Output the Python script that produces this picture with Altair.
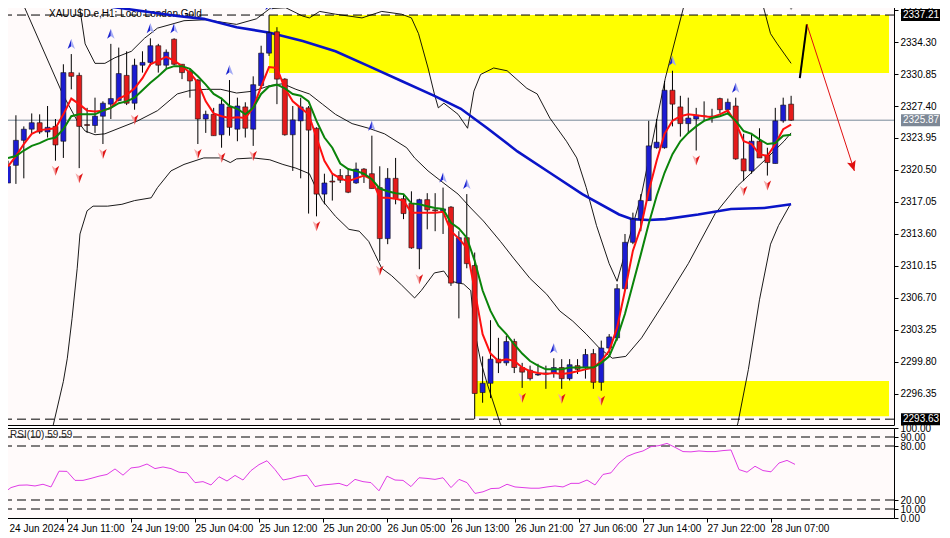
import json
import altair as alt
import pandas as pd

# ---------------- data ----------------
bars = list(range(100))

opens = [2319.1, 2321.0, 2323.7, 2324.9, 2325.6, 2324.6, 2325.2, 2323.6, 2331.0, 2330.7,
         2325.4, 2325.3, 2326.3, 2327.6, 2328.0, 2330.7, 2327.7, 2331.8, 2332.1, 2333.9,
         2331.8, 2334.6, 2331.9, 2331.1, 2330.2, 2326.0, 2326.5, 2324.3, 2327.3, 2324.9,
         2327.3, 2324.9, 2329.6, 2333.1, 2335.4, 2330.3, 2324.3, 2325.8, 2327.2, 2325.0,
         2317.9, 2319.3, 2319.9, 2319.9, 2319.1, 2320.6, 2320.1, 2318.6, 2313.1, 2319.6,
         2317.4, 2316.9, 2312.0, 2317.3, 2316.2, 2316.1, 2316.5, 2308.3, 2313.2, 2310.2,
         2296.5, 2297.5, 2300.1, 2299.7, 2302.0, 2299.2, 2298.9, 2298.4, 2298.5, 2298.6,
         2299.2, 2298.0, 2299.4, 2299.2, 2300.7, 2297.6, 2301.3, 2302.4, 2307.7, 2312.7,
         2315.2, 2317.2, 2322.9, 2322.9, 2329.1, 2327.3, 2325.5, 2326.0, 2326.3, 2326.3,
         2328.2, 2327.0, 2327.4, 2321.7, 2320.4, 2323.6, 2322.1, 2321.2, 2325.8, 2327.6]

highs = [2321.5, 2326.4, 2325.2, 2326.6, 2326.5, 2327.4, 2326.0, 2331.9, 2333.0, 2331.0,
         2327.2, 2328.3, 2327.9, 2334.1, 2333.7, 2333.3, 2332.5, 2333.3, 2334.7, 2334.1,
         2333.5, 2334.7, 2331.9, 2331.4, 2330.3, 2326.9, 2327.2, 2328.3, 2330.2, 2328.3,
         2327.8, 2330.6, 2333.9, 2337.2, 2335.9, 2330.4, 2327.4, 2328.3, 2327.4, 2325.1,
         2320.1, 2320.1, 2320.6, 2320.7, 2321.3, 2320.7, 2324.2, 2320.9, 2320.7, 2321.8,
         2317.9, 2318.2, 2317.4, 2318.0, 2318.0, 2318.6, 2316.6, 2313.9, 2317.9, 2311.6,
         2300.4, 2304.3, 2302.4, 2302.6, 2302.3, 2299.7, 2299.4, 2299.6, 2299.4, 2300.2,
         2300.1, 2300.1, 2300.1, 2301.2, 2301.2, 2302.1, 2302.8, 2308.2, 2313.6, 2315.9,
         2317.9, 2325.8, 2326.0, 2330.1, 2331.2, 2328.5, 2328.3, 2327.2, 2327.9, 2327.1,
         2328.3, 2328.2, 2328.3, 2324.4, 2324.5, 2325.0, 2322.9, 2327.2, 2328.3, 2328.5]

lows = [2319.1, 2319.0, 2319.6, 2324.4, 2324.4, 2324.0, 2321.5, 2321.8, 2329.2, 2320.7,
        2324.5, 2324.5, 2323.3, 2326.0, 2327.9, 2327.5, 2327.0, 2331.0, 2331.7, 2331.0,
        2331.5, 2331.8, 2330.3, 2328.3, 2323.3, 2324.5, 2324.2, 2322.9, 2324.2, 2323.6,
        2324.0, 2323.1, 2329.3, 2332.8, 2327.6, 2324.2, 2320.4, 2319.6, 2315.8, 2315.5,
        2316.8, 2317.2, 2319.1, 2318.0, 2319.0, 2319.1, 2318.5, 2310.7, 2312.5, 2316.8,
        2315.2, 2312.0, 2309.8, 2314.1, 2313.9, 2313.6, 2308.0, 2304.5, 2309.9, 2293.63,
        2295.4, 2295.9, 2298.6, 2299.4, 2298.6, 2297.0, 2297.8, 2298.3, 2296.9, 2298.1,
        2296.9, 2297.8, 2298.5, 2298.0, 2296.9, 2296.7, 2300.7, 2302.1, 2307.5, 2312.5,
        2313.9, 2317.2, 2322.8, 2322.8, 2325.2, 2324.1, 2324.4, 2322.6, 2325.8, 2325.6,
        2326.6, 2326.5, 2321.6, 2319.3, 2320.1, 2321.8, 2319.9, 2321.2, 2325.6, 2325.8]

closes = [2320.9, 2323.7, 2324.9, 2325.6, 2324.6, 2325.1, 2323.2, 2331.0, 2330.6, 2325.2,
          2325.3, 2326.3, 2327.7, 2328.2, 2330.9, 2327.7, 2331.8, 2332.1, 2333.9, 2331.8,
          2333.2, 2331.9, 2331.0, 2330.1, 2326.0, 2326.5, 2324.2, 2327.6, 2325.1, 2327.4,
          2325.0, 2329.7, 2333.1, 2335.3, 2330.3, 2324.3, 2325.9, 2327.3, 2324.8, 2317.9,
          2319.1, 2319.2, 2319.4, 2318.1, 2320.6, 2320.0, 2318.5, 2313.1, 2319.6, 2317.4,
          2315.8, 2312.1, 2317.3, 2316.2, 2316.1, 2316.3, 2308.3, 2313.2, 2310.4, 2296.4,
          2297.5, 2300.1, 2299.7, 2302.0, 2299.2, 2298.7, 2298.0, 2298.5, 2298.6, 2299.2,
          2298.0, 2299.5, 2299.0, 2300.6, 2297.6, 2301.3, 2302.5, 2307.7, 2312.7, 2315.2,
          2317.2, 2323.1, 2323.5, 2329.1, 2327.6, 2325.5, 2326.1, 2326.4, 2326.3, 2326.2,
          2327.0, 2327.8, 2321.7, 2320.4, 2323.6, 2321.8, 2321.3, 2325.8, 2327.5, 2325.87]

ma_fast = [2320.9, 2322.0, 2323.3, 2324.4, 2324.8, 2324.9, 2325.0, 2326.5, 2328.2, 2327.6,
           2326.9, 2326.8, 2326.9, 2327.2, 2328.2, 2328.6, 2329.3, 2330.4, 2331.9, 2332.3,
           2332.7, 2332.3, 2331.7, 2331.0, 2329.9, 2327.9, 2326.6, 2326.3, 2326.1, 2326.2,
           2326.1, 2327.2, 2329.5, 2331.6, 2331.5, 2329.3, 2327.9, 2327.2, 2326.5, 2324.0,
           2321.5, 2320.1, 2319.6, 2319.3, 2319.6, 2319.9, 2319.5, 2317.5, 2317.5, 2317.4,
           2317.2, 2315.9, 2315.9, 2315.9, 2315.9, 2316.0, 2313.9, 2313.1, 2312.1, 2307.5,
           2302.8, 2300.7, 2299.9, 2300.1, 2299.9, 2299.2, 2298.8, 2298.6, 2298.5, 2298.6,
           2298.5, 2298.6, 2298.8, 2299.0, 2299.2, 2299.9, 2301.0, 2303.5, 2307.5, 2311.8,
           2314.3, 2318.2, 2321.5, 2324.4, 2325.8, 2326.3, 2326.5, 2326.4, 2326.3, 2326.2,
           2326.5, 2326.9, 2325.6, 2323.6, 2323.3, 2322.2, 2322.0, 2323.3, 2324.9, 2325.4]

ma_slow = [2321.8, 2322.0, 2322.6, 2323.1, 2323.4, 2323.8, 2324.0, 2324.9, 2326.3, 2326.5,
           2326.5, 2326.5, 2326.9, 2327.2, 2327.7, 2327.9, 2328.3, 2329.1, 2329.9, 2330.6,
           2331.4, 2331.7, 2331.7, 2331.4, 2330.6, 2329.7, 2328.7, 2328.2, 2327.4, 2327.1,
           2326.5, 2327.2, 2328.7, 2329.5, 2329.7, 2329.3, 2328.7, 2328.5, 2327.9, 2325.8,
           2324.0, 2322.9, 2321.2, 2320.6, 2320.4, 2320.1, 2319.5, 2318.5, 2318.2, 2318.0,
           2317.9, 2316.9, 2316.8, 2316.6, 2316.4, 2316.3, 2314.8, 2314.2, 2313.2, 2310.7,
           2307.5, 2305.3, 2303.7, 2302.8, 2301.7, 2300.7, 2299.9, 2299.4, 2299.0, 2299.0,
           2299.0, 2299.2, 2299.2, 2299.2, 2299.2, 2299.7, 2300.4, 2302.4, 2305.0, 2308.2,
           2311.4, 2314.7, 2317.7, 2320.2, 2322.2, 2323.6, 2324.5, 2325.2, 2325.8, 2326.1,
           2326.3, 2326.6, 2325.8, 2324.7, 2324.4, 2323.8, 2323.3, 2323.4, 2324.2, 2324.3]

rsi_vals = [27.3, 33.8, 36.4, 36.7, 35.6, 37.5, 34.5, 52.0, 51.8, 41.8,
            41.8, 44.0, 46.5, 48.4, 54.5, 47.6, 55.6, 56.7, 60.0, 54.9,
            56.7, 54.9, 50.9, 50.2, 39.3, 40.4, 36.7, 45.8, 41.1, 47.3,
            42.2, 52.7, 59.3, 63.6, 53.8, 42.2, 44.0, 46.5, 47.6, 34.9,
            36.7, 37.5, 38.5, 35.6, 42.9, 40.4, 39.3, 30.2, 46.5, 42.2,
            41.8, 34.9, 44.7, 44.0, 42.9, 44.7, 33.8, 42.9, 39.3, 27.3,
            29.1, 32.7, 33.1, 37.5, 34.5, 33.8, 33.1, 33.1, 34.5, 35.6,
            34.5, 38.5, 38.5, 42.2, 36.7, 48.4, 50.2, 61.1, 68.4, 72.0,
            74.5, 79.3, 80.4, 82.9, 78.5, 73.8, 73.5, 74.5, 73.8, 73.8,
            74.9, 75.6, 53.8, 50.9, 57.5, 52.7, 51.3, 61.1, 64.0, 59.59]

ma_long_x = [0, 8.9, 12.25, 21.4, 24.75, 28.9, 33.1, 37.25, 41.4, 45.6, 49.75, 53.9, 57.25,
             60.6, 64.4, 68.5, 72.6, 77.25, 78.9, 81, 83.1, 87.25, 91.4, 95.6, 99]
ma_long_y = [2340.5, 2338.4, 2338.2, 2337.1, 2336.8, 2335.9, 2335.3, 2334.4, 2333.3, 2331.7,
             2330.1, 2328.5, 2327.1, 2325.0, 2322.5, 2320.2, 2317.9, 2315.7, 2315.2, 2315.1,
             2315.2, 2315.7, 2316.3, 2316.4, 2316.8]

band_up_x = [0, 9.0, 9.75, 11, 12.25, 13.5, 15.6, 17.25, 18.9, 20.6, 22.25, 25.0, 28.9, 31.4,
             33.1, 35.1, 37.25, 38.1, 39.4, 41.4, 44.75, 47.25, 49.75, 51, 51.9, 53.1, 53.9,
             54.4, 55.1, 56.9, 58.1, 58.9, 59.75, 61.4, 63.1, 65.6, 66.9, 68.5, 70.6, 71.9,
             73.1, 74.4, 76, 77, 80.1, 83.1, 85.6, 90.5, 95.4, 96.4, 97.25, 99]
band_up_y = [2346.0, 2338.4, 2334.1, 2332.0, 2332.0, 2332.6, 2333.3, 2334.7, 2335.8, 2336.2,
             2336.6, 2336.7, 2336.2, 2336.8, 2337.9, 2338.0, 2337.1, 2336.9, 2337.6, 2337.3,
             2336.9, 2337.6, 2337.3, 2336.9, 2335.2, 2331.5, 2328.7, 2327.2, 2327.7, 2326.5,
             2325.0, 2329.0, 2330.8, 2331.5, 2331.2, 2329.3, 2328.7, 2326.1, 2323.6, 2321.8,
             2318.6, 2314.5, 2310.4, 2308.5, 2317.9, 2330.4, 2338.7, 2345.0, 2338.4, 2335.2,
             2334.1, 2332.0]

band_mid_x = [0, 1.75, 6.9, 8.75, 9.75, 11, 12.25, 16.4, 18.9, 21.4, 23.1, 25.1, 26.9, 28.9,
              31, 33.1, 34.75, 36.4, 38.1, 39.75, 41.4, 43.5, 45.6, 47.6, 50.4, 51.4, 53.1,
              54.75, 56.9, 58.5, 60.1, 62.25, 63.9, 66, 68.1, 69.75, 71.4, 73.1, 74.75, 76.4,
              78.1, 80.1, 83.1, 86, 89.4, 92.25, 95.6, 98.1, 99]
band_mid_y = [2340.5, 2338.7, 2328.7, 2325.8, 2324.7, 2324.3, 2324.4, 2325.8, 2326.9, 2328.7,
              2329.1, 2329.2, 2329.2, 2328.8, 2329.0, 2329.6, 2329.8, 2329.2, 2328.7, 2327.6,
              2326.5, 2325.5, 2325.0, 2324.4, 2322.9, 2321.8, 2320.4, 2319.3, 2317.9, 2316.4,
              2315.0, 2312.8, 2311.0, 2308.8, 2307.1, 2305.3, 2304.2, 2302.8, 2301.3, 2300.2,
              2300.4, 2302.4, 2306.4, 2310.4, 2315.8, 2318.8, 2321.5, 2323.6, 2324.5]

band_low_x = [0, 4.5, 5.75, 7, 7.5, 8.1, 8.75, 9.1, 10, 10.75, 12.6, 14.4, 16, 18.1, 18.9,
              20.6, 22.25, 24.75, 26.9, 28.1, 28.9, 31, 33.1, 34.75, 36.4, 38.1, 38.9, 39.75,
              41.4, 43.1, 44.4, 45.6, 46.4, 47.25, 48.5, 49.75, 51.4, 52.25, 53.9, 55.1, 56,
              57.6, 58.5, 59, 59.75, 60.6, 62.25, 66, 72, 80, 88, 92.25, 93.6, 95, 96.4,
              97.4, 98.9]
band_low_y = [2285.0, 2289.0, 2293.1, 2297.7, 2300.2, 2304.5, 2309.9, 2313.6, 2316.1, 2316.6,
              2316.6, 2316.8, 2317.2, 2317.5, 2318.6, 2320.4, 2321.1, 2321.8, 2321.8, 2321.3,
              2321.7, 2321.8, 2321.6, 2321.1, 2320.7, 2320.1, 2318.6, 2317.2, 2315.5, 2314.1,
              2313.9, 2312.8, 2311.4, 2309.9, 2309.1, 2308.1, 2306.7, 2307.5, 2309.4, 2309.6,
              2308.5, 2308.2, 2307.5, 2303.1, 2299.9, 2297.4, 2293.1, 2289.0, 2286.0, 2285.0,
              2287.0, 2293.1, 2299.0, 2306.5, 2312.5, 2314.5, 2316.8]

fractal_up = [8, 13, 18, 21, 28, 33, 46, 55, 58, 69, 84, 92]
fractal_down = [6, 9, 12, 16, 24, 27, 31, 39, 47, 52, 65, 70, 75, 87, 93, 96]

zone_start = [33, 59]
zone_low = [2330.95, 2293.95]
zone_high = [2337.21, 2297.75]
dashed_levels = [2337.21, 2293.63]
bid_price = 2325.87

forecast_up_x = [100.1, 101.0]
forecast_up_y = [2330.4, 2336.2]
forecast_dn_x = [101.0, 107.0]
forecast_dn_y = [2336.2, 2320.4]

price_ticks = [2296.35, 2299.80, 2303.25, 2306.70, 2310.15, 2313.60, 2317.05,
               2320.50, 2323.95, 2327.40, 2330.85, 2334.30, 2337.75]
time_ticks = [0, 8, 16, 24, 32, 40, 48, 56, 64, 72, 80, 88, 96]
time_labels = ["24 Jun 2024", "24 Jun 11:00", "24 Jun 19:00", "25 Jun 04:00", "25 Jun 12:00",
               "25 Jun 20:00", "26 Jun 05:00", "26 Jun 13:00", "26 Jun 21:00", "27 Jun 06:00",
               "27 Jun 14:00", "27 Jun 22:00", "28 Jun 07:00"]
rsi_levels = [10, 20, 80, 90]
rsi_ticks = [0, 10, 20, 80, 90, 100]

title_text = "XAUUSD.e,H1: Loco London Gold"
rsi_text = "RSI(10) 59.59"

# ---------------- layout / style ----------------
FONT = "Liberation Sans"
W, H1, H2 = 891, 421, 90
X_MAX = W / 8
Y_MIN, Y_MAX = 2293.0, 2338.4

xs = alt.Scale(domain=[0, X_MAX], nice=False, zero=False)
ys = alt.Scale(domain=[Y_MIN, Y_MAX], nice=False, zero=False)

y_axis = alt.Axis(orient="right", values=price_ticks, format=".2f", title=None, grid=False,
                  domain=False, tickSize=4, tickColor="black", labelColor="black",
                  labelFont=FONT, labelFontSize=10, labelPadding=2, labelOverlap=False, zindex=0)


def X(f):
    return alt.X(f, type="quantitative", scale=xs, axis=None)


def Y(f):
    return alt.Y(f, type="quantitative", scale=ys, axis=y_axis)


cdf = pd.DataFrame(dict(i=bars, o=opens, h=highs, l=lows, c=closes,
                        fast=ma_fast, slow=ma_slow, rsi=rsi_vals))
up_df = cdf[cdf.c >= cdf.o]
dn_df = cdf[cdf.c < cdf.o]
fu_df = cdf[cdf.i.isin(fractal_up)]
fd_df = cdf[cdf.i.isin(fractal_down)]

zones = pd.DataFrame(dict(x1=zone_start, x2=[X_MAX] * len(zone_start), y1=zone_low, y2=zone_high))

zone_layer = alt.Chart(zones).mark_rect(fill="#ffff00", clip=True).encode(
    x=X("x1"), x2="x2", y=Y("y1"), y2="y2")

title_layer = alt.Chart(pd.DataFrame({"t": [title_text]})).mark_text(
    align="left", baseline="middle", font=FONT, fontSize=10, color="black").encode(
    x=alt.value(46), y=alt.value(10), text="t:N")

dash_layer = alt.Chart(pd.DataFrame({"p": dashed_levels})).mark_rule(
    color="black", strokeWidth=1, strokeDash=[9, 5]).encode(y=Y("p"))

bid_layer = alt.Chart(pd.DataFrame({"p": [bid_price]})).mark_rule(
    color="#778899", strokeWidth=1).encode(y=Y("p"))


def thin_line(xv, yv, color, width):
    d = pd.DataFrame({"x": xv, "y": yv})
    return alt.Chart(d).mark_line(color=color, strokeWidth=width, clip=True).encode(
        x=X("x"), y=Y("y"))


band_up = thin_line(band_up_x, band_up_y, "black", 0.9)
band_mid = thin_line(band_mid_x, band_mid_y, "black", 0.9)
band_low = thin_line(band_low_x, band_low_y, "black", 0.9)
ma_long = thin_line(ma_long_x, ma_long_y, "#0a14c8", 2.6)

wicks = alt.Chart(cdf).mark_rule(color="black", strokeWidth=1, clip=True).encode(
    x=X("i"), y=Y("l"), y2="h")
body_up = alt.Chart(up_df).mark_bar(size=5, fill="#1c1cd2", stroke="#101010", strokeWidth=0.6,
                                    clip=True).encode(x=X("i"), y=Y("o"), y2="c")
body_dn = alt.Chart(dn_df).mark_bar(size=5, fill="#e41b1b", stroke="#101010", strokeWidth=0.6,
                                    clip=True).encode(x=X("i"), y=Y("o"), y2="c")

fast_line = alt.Chart(cdf).mark_line(color="#ff1010", strokeWidth=2, clip=True).encode(
    x=X("i"), y=Y("fast"))
slow_line = alt.Chart(cdf).mark_line(color="#0a840a", strokeWidth=2, clip=True).encode(
    x=X("i"), y=Y("slow"))

UP_L = "M0,-1L0,0.45L-0.75,1Z"
UP_R = "M0,-1L0.75,1L0,0.45Z"
DN_L = "M0,1L0,-0.45L-0.75,-1Z"
DN_R = "M0,1L0.75,-1L0,-0.45Z"

frac_up_l = alt.Chart(fu_df).mark_point(shape=UP_L, filled=True, size=100, color="#1a22d0",
                                        opacity=1, yOffset=-10, clip=True).encode(x=X("i"), y=Y("h"))
frac_up_r = alt.Chart(fu_df).mark_point(shape=UP_R, filled=True, size=100, color="#a3aaf5",
                                        opacity=1, yOffset=-10, clip=True).encode(x=X("i"), y=Y("h"))
frac_dn_l = alt.Chart(fd_df).mark_point(shape=DN_L, filled=True, size=100, color="#f4a7a7",
                                        opacity=1, yOffset=10, clip=True).encode(x=X("i"), y=Y("l"))
frac_dn_r = alt.Chart(fd_df).mark_point(shape=DN_R, filled=True, size=100, color="#e01515",
                                        opacity=1, yOffset=10, clip=True).encode(x=X("i"), y=Y("l"))

fc_up = thin_line(forecast_up_x, forecast_up_y, "black", 2)
fc_dn = thin_line(forecast_dn_x, forecast_dn_y, "#e01010", 1)
fc_head = alt.Chart(pd.DataFrame({"x": [forecast_dn_x[-1]], "y": [forecast_dn_y[-1]]})).mark_point(
    shape="M0,0L-0.45,-1L0,-0.8L0.45,-1Z", filled=True, size=400, color="#e01010", opacity=1,
    angle=342).encode(x=X("x"), y=Y("y"))

shift_mark = alt.Chart(pd.DataFrame({"x": [bars[-1]], "y": [Y_MAX]})).mark_point(
    shape="triangle-down", filled=True, size=60, color="#8a8a8a", opacity=1, yOffset=3).encode(
    x=X("x"), y=Y("y"))

box_df_black = pd.DataFrame({"p": [dashed_levels[0], dashed_levels[1]],
                             "t": [f"{dashed_levels[0]:.2f}", f"{dashed_levels[1]:.2f}"]})
box_df_gray = pd.DataFrame({"p": [bid_price], "t": [f"{bid_price:.2f}"]})

box_black = alt.Chart(box_df_black).mark_rect(fill="black", yOffset=-6, y2Offset=6).encode(
    x=alt.value(W + 7), x2=alt.value(W + 46), y=Y("p"), y2="p")
box_gray = alt.Chart(box_df_gray).mark_rect(fill="#7d8896", yOffset=-6, y2Offset=6).encode(
    x=alt.value(W + 7), x2=alt.value(W + 46), y=Y("p"), y2="p")
box_text = alt.Chart(pd.concat([box_df_black, box_df_gray])).mark_text(
    align="left", baseline="middle", font=FONT, fontSize=10, color="white").encode(
    x=alt.value(W + 9), y=Y("p"), text="t:N")

main = alt.layer(
    zone_layer, title_layer, dash_layer, bid_layer,
    band_up, band_mid, band_low, ma_long,
    wicks, body_up, body_dn, fast_line, slow_line,
    frac_up_l, frac_up_r, frac_dn_l, frac_dn_r,
    fc_up, fc_dn, fc_head, shift_mark,
    box_black, box_gray, box_text,
).properties(width=W, height=H1)

# ---------------- RSI panel ----------------
rs = alt.Scale(domain=[0, 100], nice=False, zero=False)
x_axis_t = alt.Axis(values=time_ticks,
                    labelExpr=json.dumps(time_labels) + "[round(datum.value / 8)]",
                    title=None, grid=False, domain=False, tickSize=4, tickColor="black",
                    labelAlign="left", labelPadding=1, labelFont=FONT, labelFontSize=10,
                    labelColor="black", labelOverlap=False, labelFlush=False,
                    labelOffset={"condition": {"test": "datum.value == 0", "value": 6},
                                 "value": 0})
rsi_axis = alt.Axis(orient="right", values=rsi_ticks, format=".2f", title=None, grid=False,
                    domain=False, tickSize=4, tickColor="black", labelColor="black",
                    labelFont=FONT, labelFontSize=10, labelPadding=2, labelOverlap=False)

rsi_line = alt.Chart(cdf).mark_line(color="#e03ce6", strokeWidth=1, clip=True).encode(
    x=alt.X("i:Q", scale=xs, axis=x_axis_t), y=alt.Y("rsi:Q", scale=rs, axis=rsi_axis))
rsi_lv = alt.Chart(pd.DataFrame({"v": rsi_levels})).mark_rule(
    color="black", strokeWidth=1, strokeDash=[9, 5]).encode(
    y=alt.Y("v:Q", scale=rs, axis=rsi_axis))
rsi_lbl = alt.Chart(pd.DataFrame({"t": [rsi_text]})).mark_text(
    align="left", baseline="middle", font=FONT, fontSize=10, color="#222222").encode(
    x=alt.value(7), y=alt.value(7), text="t:N")

rsi = alt.layer(rsi_lv, rsi_line, rsi_lbl).properties(width=W, height=H2)

chart = alt.vconcat(main, rsi, spacing=3, bounds="flush").properties(
    padding={"left": -6, "top": -5, "right": 0, "bottom": 0},
    background="white",
).configure_view(stroke="black", strokeWidth=1, fill="#fffafa")

chart.save("out.html", embed_options={"renderer": "svg", "actions": False})
